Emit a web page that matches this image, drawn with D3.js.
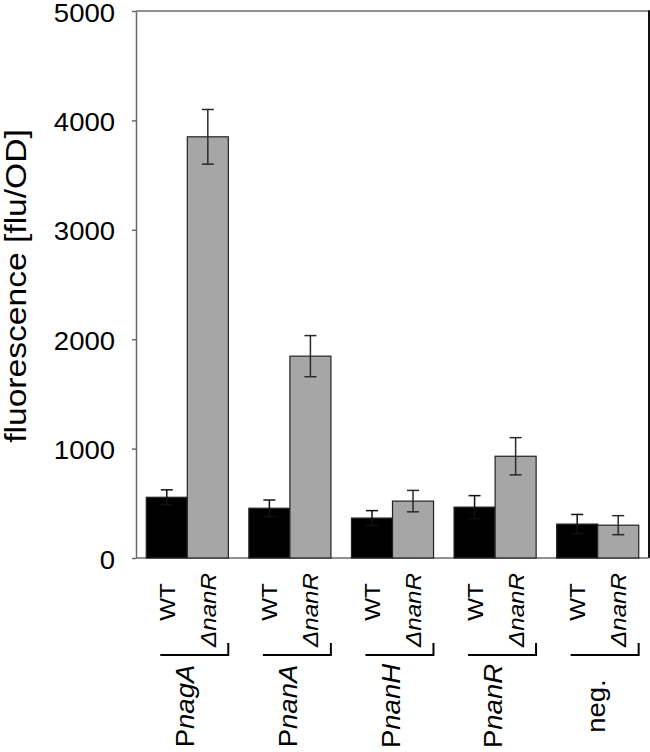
<!DOCTYPE html>
<html><head><meta charset="utf-8">
<script src="https://cdn.jsdelivr.net/npm/d3@7"></script>
<style>body{margin:0;background:#fff} text{font-family:"Liberation Sans",Arial,sans-serif;fill:#000}</style>
</head><body>
<svg id="c" width="650" height="752"></svg>
<script>
const groups = ["nagA","nanA","nanH","nanR","neg."];
const groupPrefix = ["P","P","P","P",""];
const groupItalic = [true,true,true,true,false];
const strains = ["WT","ΔnanR"];
const wtValues = [555, 455, 365, 465, 310];
const wtErrors = [68, 75, 68, 105, 88];
const delValues = [3850, 1845, 520, 930, 300];
const delErrors = [250, 188, 98, 170, 87];
const yTicks = [0,1000,2000,3000,4000,5000];

(function(){
const svg = d3.select("#c");
const pLeft = 136, pRight = 649, pTop = 11, pBottom = 558;
const x = d3.scaleBand().domain(groups).range([pLeft, pRight]).paddingInner(0.2).paddingOuter(0.1);
const xs = d3.scaleBand().domain(strains).range([0, x.bandwidth()]);
const y = d3.scaleLinear().domain([0, 5000]).range([pBottom, pTop]);

// frame
svg.append("line").attr("x1", pLeft).attr("x2", pRight).attr("y1", pTop).attr("y2", pTop)
  .attr("stroke", "#6b6b6b").attr("stroke-width", 1.5);
svg.append("line").attr("x1", pRight).attr("x2", pRight).attr("y1", pTop - 0.75).attr("y2", pBottom)
  .attr("stroke", "#111").attr("stroke-width", 2);
svg.append("line").attr("x1", pLeft).attr("x2", pRight).attr("y1", pBottom).attr("y2", pBottom)
  .attr("stroke", "#6b6b6b").attr("stroke-width", 1.5);

// y axis
const ax = svg.append("g").attr("transform", `translate(${pLeft},0)`)
  .call(d3.axisLeft(y).tickValues(yTicks).tickSize(4).tickSizeOuter(0).tickPadding(17).tickFormat(d3.format("d")));
ax.select(".domain").attr("stroke", "#6b6b6b").attr("stroke-width", 1.5);
ax.selectAll(".tick line").attr("stroke", "#6b6b6b").attr("stroke-width", 1.5);
ax.selectAll(".tick text").attr("font-size", 25).attr("font-family", "Liberation Sans, Arial, sans-serif")
  .attr("fill", "#000").attr("dy", "0.4em")
  .attr("transform", function(){ const xx = +d3.select(this).attr("x"); return `translate(${xx},0) scale(1.1,1) translate(${-xx},0)`; });

// y label
svg.append("text").attr("transform", "translate(26,286) rotate(-90) scale(1.12,1)")
  .attr("text-anchor", "middle").attr("font-size", 30).text("fluorescence [flu/OD]");

// bars
const data = [];
groups.forEach((g, i) => {
  data.push({g, s: strains[0], v: wtValues[i], e: wtErrors[i], fill: "#000"});
  data.push({g, s: strains[1], v: delValues[i], e: delErrors[i], fill: "#a6a6a6"});
});
svg.selectAll("rect.bar").data(data).join("rect").attr("class", "bar")
  .attr("x", d => x(d.g) + xs(d.s)).attr("width", xs.bandwidth())
  .attr("y", d => y(d.v)).attr("height", d => y(0) - y(d.v))
  .attr("fill", d => d.fill).attr("stroke", "#222").attr("stroke-width", 1.2);

// error bars
const eb = svg.selectAll("g.err").data(data).join("g").attr("class", "err")
  .attr("transform", d => `translate(${x(d.g) + xs(d.s) + xs.bandwidth()/2},0)`);
const ecol = d => d.fill === "#000" ? "#111" : "#2a2a2a";
eb.append("line").attr("y1", d => y(d.v + d.e)).attr("y2", d => y(d.v - d.e)).attr("stroke", ecol).attr("stroke-width", 1.5);
eb.append("line").attr("x1", -6).attr("x2", 6).attr("y1", d => y(d.v + d.e)).attr("y2", d => y(d.v + d.e)).attr("stroke", ecol).attr("stroke-width", 1.5);
eb.append("line").attr("x1", -6).attr("x2", 6).attr("y1", d => y(d.v - d.e)).attr("y2", d => y(d.v - d.e)).attr("stroke", ecol).attr("stroke-width", 1.5);

// strain labels
const strainY = {"WT": 602, "ΔnanR": 610};
data.forEach(d => {
  const cx = x(d.g) + xs(d.s) + xs.bandwidth()/2 + 8;
  svg.append("text").attr("transform", `translate(${cx},${strainY[d.s]}) rotate(-90) scale(1.1,1)`)
    .attr("text-anchor", "middle").attr("font-size", 22)
    .attr("font-style", d.s === "WT" ? "normal" : "italic").text(d.s);
});

// group separators and labels
groups.forEach((g, i) => {
  const x0 = x(g);
  svg.append("line").attr("x1", x0 + 14).attr("x2", x0 + 82).attr("y1", 655).attr("y2", 655)
    .attr("stroke", "#000").attr("stroke-width", 2);
  svg.append("line").attr("x1", x0 + 82).attr("x2", x0 + 82).attr("y1", 643).attr("y2", 656)
    .attr("stroke", "#000").attr("stroke-width", 2);
  const cx = x0 + x.bandwidth()/2 + 7;
  const t = svg.append("text").attr("transform", `translate(${cx},706) rotate(-90) scale(1.1,1)`)
    .attr("text-anchor", "middle").attr("font-size", 25);
  if (groupPrefix[i]) t.append("tspan").text(groupPrefix[i]);
  t.append("tspan").attr("font-style", groupItalic[i] ? "italic" : "normal").text(g);
});
})();
</script>
</body></html>
